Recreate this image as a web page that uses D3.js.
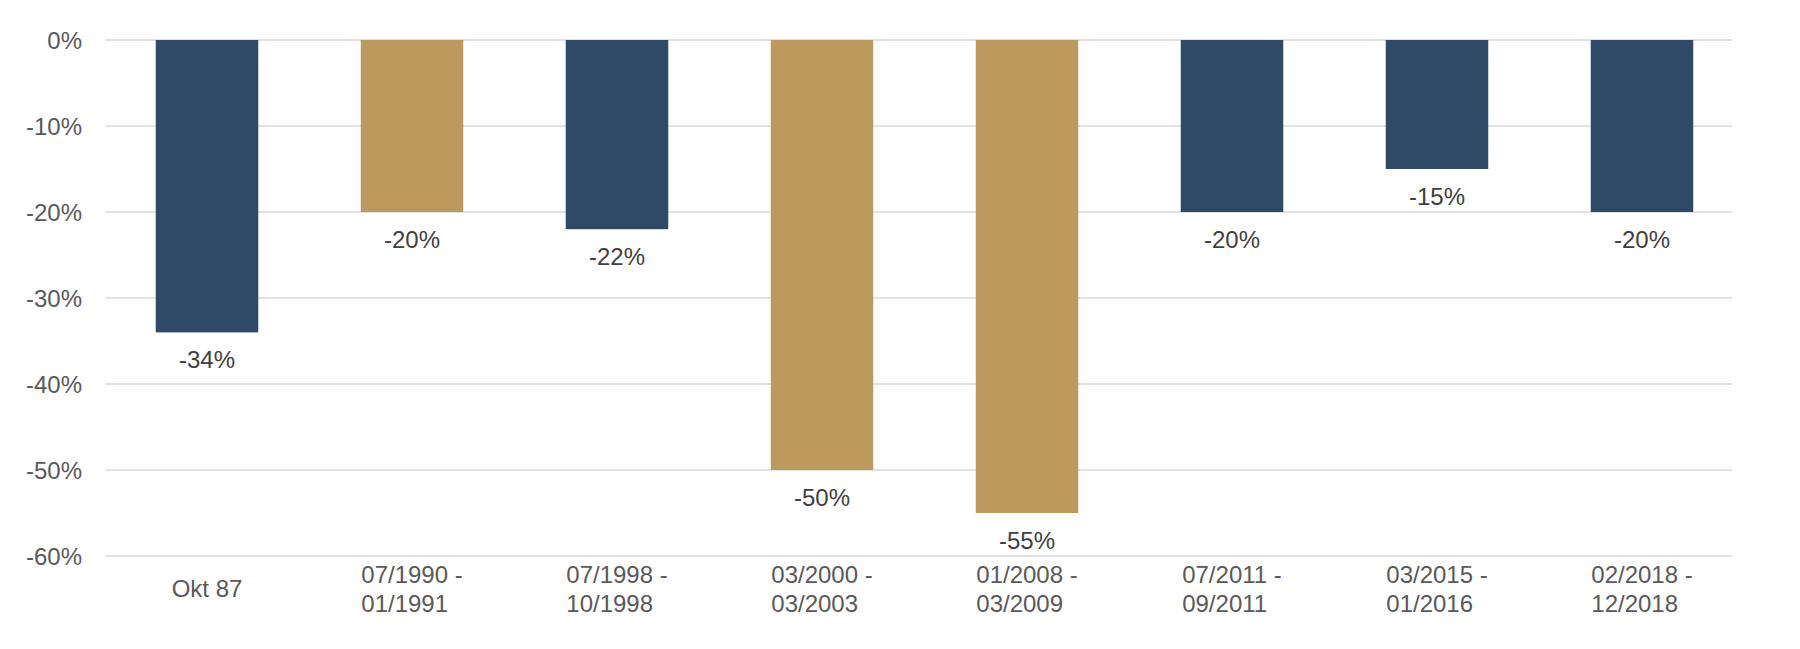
<!DOCTYPE html>
<html>
<head>
<meta charset="utf-8">
<script src="https://cdn.jsdelivr.net/npm/d3@7"></script>
<style>
html,body{margin:0;padding:0;background:#fff;}
svg{display:block;font-family:"Liberation Sans",Arial,sans-serif;}
</style>
</head>
<body>
<svg id="chart" width="1800" height="649"></svg>
<script>
const categories = [
  ["Okt 87"],
  ["07/1990 -", "01/1991"],
  ["07/1998 -", "10/1998"],
  ["03/2000 -", "03/2003"],
  ["01/2008 -", "03/2009"],
  ["07/2011 -", "09/2011"],
  ["03/2015 -", "01/2016"],
  ["02/2018 -", "12/2018"]
];
const values = [-34, -20, -22, -50, -55, -20, -15, -20];
const highlight = [false, true, false, true, true, false, false, false];
const yTicks = [0, -10, -20, -30, -40, -50, -60];

const svg = d3.select("#chart");
const x = d3.scaleBand().domain(d3.range(categories.length)).range([104.5, 1744.5]).paddingInner(0.5).paddingOuter(0.25);
const y = d3.scaleLinear().domain([-60, 0]).range([556, 40]);
const gridLeft = 105, gridRight = 1732;

svg.append("g").selectAll("line").data(yTicks).join("line")
  .attr("x1", gridLeft).attr("x2", gridRight)
  .attr("y1", d => y(d)).attr("y2", d => y(d))
  .attr("stroke", "#d9d9d9").attr("stroke-width", 1.3);

svg.append("g").selectAll("text").data(yTicks).join("text")
  .attr("x", 82).attr("y", d => y(d))
  .attr("text-anchor", "end").attr("dominant-baseline", "central")
  .attr("fill", "#595959").attr("font-size", 24)
  .text(d => d + "%");

svg.append("g").selectAll("rect").data(values).join("rect")
  .attr("x", (d, i) => x(i)).attr("width", x.bandwidth())
  .attr("y", y(0)).attr("height", d => y(d) - y(0))
  .attr("fill", (d, i) => highlight[i] ? "#bc9a5e" : "#2e4a66");

svg.append("g").selectAll("text").data(values).join("text")
  .attr("x", (d, i) => x(i) + x.bandwidth() / 2)
  .attr("y", d => y(d) + 36)
  .attr("text-anchor", "middle")
  .attr("fill", "#404040").attr("font-size", 24)
  .text(d => d + "%");

const xl = svg.append("g");
categories.forEach((lines, i) => {
  const cx = x(i) + x.bandwidth() / 2;
  const t = xl.append("text").attr("fill", "#595959").attr("font-size", 24);
  const lh = 29;
  const base = 597 - (lines.length - 1) * lh / 2;
  const spans = lines.map((s, j) => t.append("tspan").attr("y", base + j * lh).text(s));
  const w = d3.max(spans, sp => sp.node().getComputedTextLength());
  spans.forEach(sp => sp.attr("x", cx - w / 2));
});
</script>
</body>
</html>
